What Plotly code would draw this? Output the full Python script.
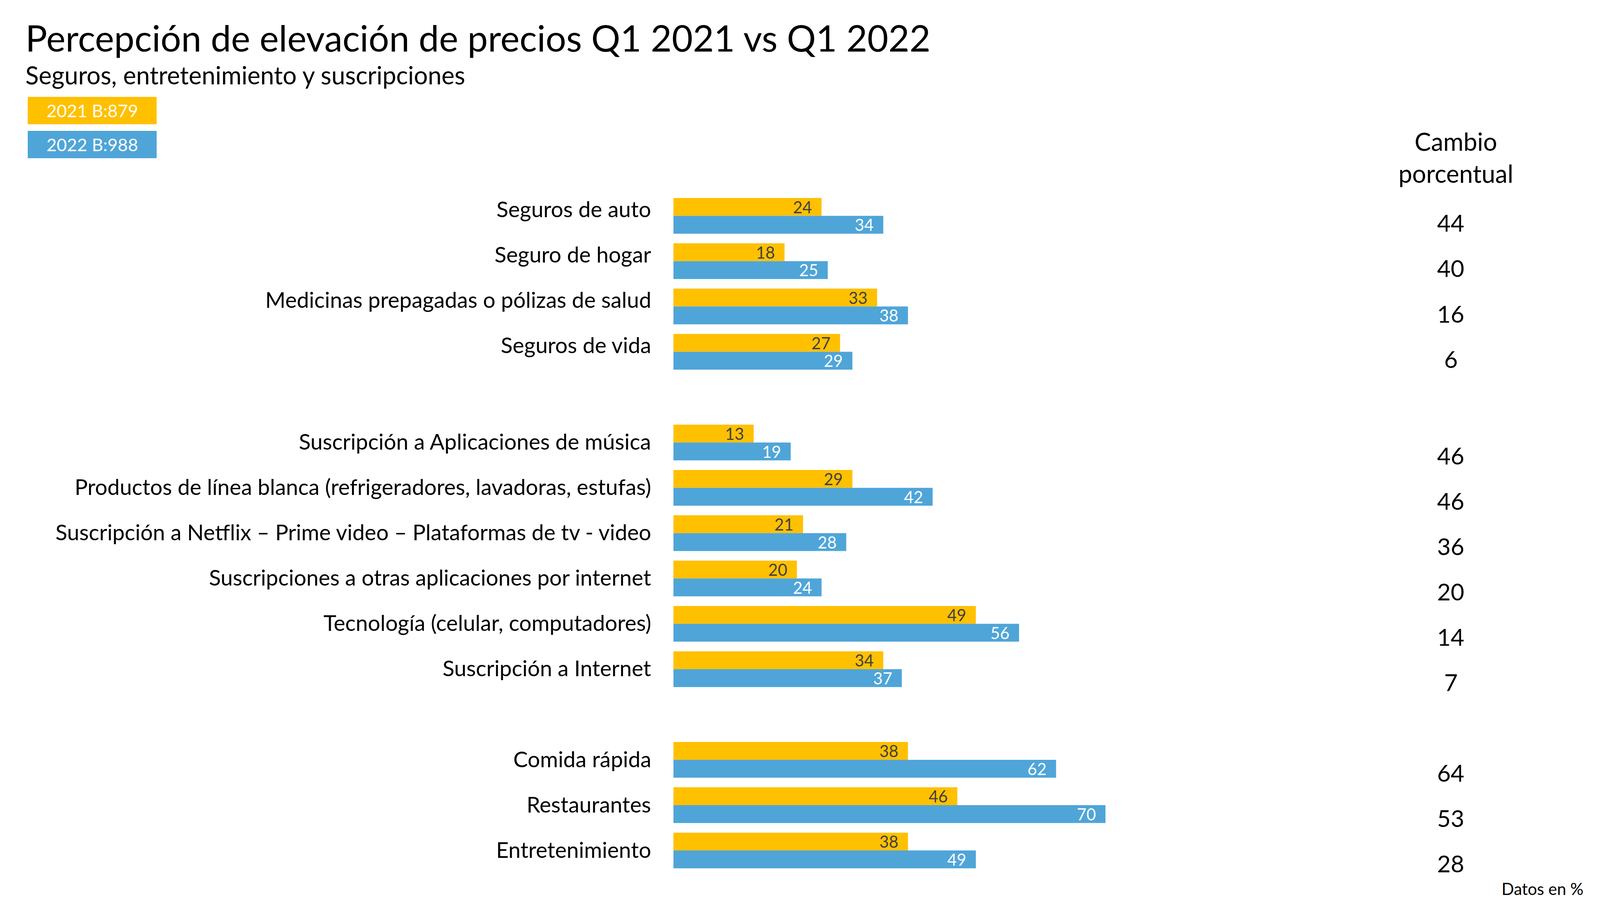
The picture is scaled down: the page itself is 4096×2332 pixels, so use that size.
import plotly.graph_objects as go

# ---------------- data ----------------
categories = [
    "Seguros de auto",
    "Seguro de hogar",
    "Medicinas prepagadas o pólizas de salud",
    "Seguros de vida",
    "Suscripción a Aplicaciones de música",
    "Productos de línea blanca (refrigeradores, lavadoras, estufas)",
    "Suscripción a Netflix – Prime video – Plataformas de tv - video",
    "Suscripciones a otras aplicaciones por internet",
    "Tecnología (celular, computadores)",
    "Suscripción a Internet",
    "Comida rápida",
    "Restaurantes",
    "Entretenimiento",
]
group_of = [0, 0, 0, 0, 1, 1, 1, 1, 1, 1, 2, 2, 2]
v2021 = [24, 18, 33, 27, 13, 29, 21, 20, 49, 34, 38, 46, 38]
v2022 = [34, 25, 38, 29, 19, 42, 28, 24, 56, 37, 62, 70, 49]
cambio = [44, 40, 16, 6, 46, 46, 36, 20, 14, 7, 64, 53, 28]
series_names = ["2021 B:879", "2022 B:988"]

title = "Percepción de elevación de precios Q1 2021 vs Q1 2022"
subtitle = "Seguros, entretenimiento y suscripciones"
col_header = "Cambio<br>porcentual"
footnote = "Datos en %"

# ---------------- style ----------------
OFF = 8                      # page body margin
W, H = 4096 - 2 * OFF, 2332 - 2 * OFF
FONT = "Lato"
ORANGE = "#FFC000"
BLUE = "#4FA5D8"
DARK = "#404040"

def px(x):
    """window x (px) -> paper fraction"""
    return (x - OFF) / W

def py(y_from_top):
    """window y from top (px) -> paper fraction"""
    return 1 - (y_from_top - OFF) / H

# one empty slot between groups
pos = [i + g for i, g in enumerate(group_of)]
n_slots = pos[-1] + 1

label_shift = {0: 18, 1: 3, 2: 3}
value_shift = {0: -18, 1: -33, 2: -33}
pad = "\u00a0\u00a0"

fig = go.Figure()
fig.add_trace(go.Bar(
    y=pos, x=v2021, orientation="h", name=series_names[0],
    marker=dict(color=ORANGE, line=dict(width=0)),
    text=[f"{v}{pad}" for v in v2021], textposition="inside",
    insidetextanchor="end", constraintext="none", textangle=0,
    textfont=dict(family=FONT, size=42, color=DARK),
))
fig.add_trace(go.Bar(
    y=pos, x=v2022, orientation="h", name=series_names[1],
    marker=dict(color=BLUE, line=dict(width=0)),
    text=[f"{v}{pad}" for v in v2022], textposition="inside",
    insidetextanchor="end", constraintext="none", textangle=0,
    textfont=dict(family=FONT, size=42, color="white"),
))

annotations = []
for c, p, g in zip(categories, pos, group_of):
    annotations.append(dict(
        x=px(1669), xref="paper", y=p, yref="y", text=c, showarrow=False,
        xanchor="right", yanchor="middle", yshift=label_shift[g],
        font=dict(family=FONT, size=56, color="black"),
    ))
for v, p, g in zip(cambio, pos, group_of):
    annotations.append(dict(
        x=px(3714), xref="paper", y=p, yref="y", text=str(v), showarrow=False,
        xanchor="center", yanchor="middle", yshift=value_shift[g],
        font=dict(family=FONT, size=60, color="black"),
    ))

annotations += [
    dict(x=px(63), y=py(96), xref="paper", yref="paper", text=title,
         showarrow=False, xanchor="left", yanchor="middle",
         font=dict(family=FONT, size=93, color="black")),
    dict(x=px(63), y=py(191), xref="paper", yref="paper", text=subtitle,
         showarrow=False, xanchor="left", yanchor="middle",
         font=dict(family=FONT, size=63, color="black")),
    dict(x=px(236), y=py(283), xref="paper", yref="paper", text=series_names[0],
         showarrow=False, xanchor="center", yanchor="middle",
         font=dict(family=FONT, size=45, color="white")),
    dict(x=px(236), y=py(370), xref="paper", yref="paper", text=series_names[1],
         showarrow=False, xanchor="center", yanchor="middle",
         font=dict(family=FONT, size=45, color="white")),
    dict(x=px(3727), y=py(403), xref="paper", yref="paper", text=col_header,
         showarrow=False, xanchor="center", yanchor="middle",
         font=dict(family=FONT, size=63, color="black")),
    dict(x=px(4056), y=py(2275), xref="paper", yref="paper", text=footnote,
         showarrow=False, xanchor="right", yanchor="middle",
         font=dict(family=FONT, size=42, color="black")),
]

shapes = [
    dict(type="rect", xref="paper", yref="paper", x0=px(71), x1=px(401),
         y0=py(318), y1=py(248), fillcolor=ORANGE, line=dict(width=0)),
    dict(type="rect", xref="paper", yref="paper", x0=px(71), x1=px(401),
         y0=py(405), y1=py(335), fillcolor=BLUE, line=dict(width=0)),
]

slot_px = 116.05
top_px = 552.4 - slot_px / 2
bot_px = top_px + n_slots * slot_px

fig.update_layout(
    width=W, height=H,
    margin=dict(l=0, r=0, t=0, b=0),
    paper_bgcolor="white", plot_bgcolor="white",
    barmode="group", bargap=0.212, bargroupgap=0,
    showlegend=False,
    xaxis=dict(visible=False, range=[0, 100], domain=[px(1724), px(1724 + 1580)]),
    yaxis=dict(visible=False, range=[n_slots - 0.5, -0.5],
               domain=[py(bot_px), py(top_px)]),
    annotations=annotations,
    shapes=shapes,
    font=dict(family=FONT),
)

fig.write_html("out.html")
